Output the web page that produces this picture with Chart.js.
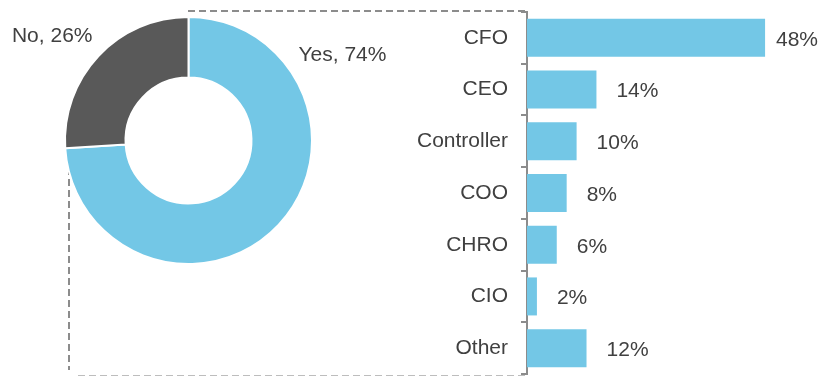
<!DOCTYPE html>
<html>
<head>
<meta charset="utf-8">
<script src="https://cdn.jsdelivr.net/npm/chart.js@4"></script>
<style>
  html, body { margin: 0; padding: 0; background: #fff; }
  #wrap { position: relative; width: 820px; height: 376px; }
  #barChart { position: absolute; left: 0; top: 0; }
  #pieChart { position: absolute; left: 0; top: 0; }
</style>
</head>
<body>
<div id="wrap">
  <canvas id="barChart" width="820" height="376"></canvas>
  <canvas id="pieChart" width="400" height="376"></canvas>
</div>
<script>
// Split of respondents (doughnut)
const pieLabels = ['Yes', 'No'];
const pieValues = [74, 26];

// Breakdown of the "Yes" share by role (bars)
const roles = ['CFO', 'CEO', 'Controller', 'COO', 'CHRO', 'CIO', 'Other'];
const roleValues = [48, 14, 10, 8, 6, 2, 12];

const BLUE = '#73c7e6';
const DARK = '#595959';
const TEXT = '#404040';
const FONT = '"Liberation Sans", Arial, sans-serif';

document.addEventListener('DOMContentLoaded', function() {
    Chart.defaults.font.family = FONT;
    Chart.defaults.font.size = 21;
    Chart.defaults.color = TEXT;

    // Dashed connector lines from the doughnut out to the bar panel
    const connectorLines = {
        id: 'connectorLines',
        beforeDraw(chart) {
            const ctx = chart.ctx;
            const a = chart.chartArea;
            ctx.save();
            ctx.strokeStyle = '#8c8c8c';
            ctx.lineWidth = 2;
            ctx.setLineDash([7, 4]);
            ctx.beginPath();
            ctx.moveTo(188, a.top - 1);
            ctx.lineTo(a.left - 2, a.top - 1);
            ctx.moveTo(69, 168);
            ctx.lineTo(69, 370);
            ctx.stroke();
            ctx.strokeStyle = '#bdbdbd';
            ctx.beginPath();
            ctx.moveTo(78, 376);
            ctx.lineTo(a.left - 2, 376);
            ctx.stroke();
            ctx.restore();
        }
    };

    // Value labels after each bar, kept inside the canvas
    const barValueLabels = {
        id: 'barValueLabels',
        afterDatasetsDraw(chart) {
            const ctx = chart.ctx;
            const meta = chart.getDatasetMeta(0);
            ctx.save();
            ctx.font = '21px ' + FONT;
            ctx.fillStyle = TEXT;
            ctx.textBaseline = 'middle';
            ctx.textAlign = 'left';
            meta.data.forEach((bar, i) => {
                const text = roleValues[i] + '%';
                const w = ctx.measureText(text).width;
                const x = Math.min(bar.x + 20, chart.width - w - 2);
                ctx.fillText(text, x, bar.y + 2);
            });
            ctx.restore();
        }
    };

    new Chart(document.getElementById('barChart'), {
        type: 'bar',
        data: {
            labels: roles,
            datasets: [{
                data: roleValues,
                backgroundColor: BLUE,
                borderWidth: 0,
                barPercentage: 0.735,
                categoryPercentage: 1
            }]
        },
        options: {
            indexAxis: 'y',
            responsive: false,
            animation: false,
            layout: {
                padding: { left: 0, right: 45, top: 12, bottom: 2 }
            },
            plugins: {
                legend: { display: false },
                tooltip: { enabled: false }
            },
            scales: {
                x: {
                    display: false,
                    min: 0,
                    max: 50
                },
                y: {
                    afterFit(scale) {
                        // fixed axis width, no extra room for the end labels
                        scale.width = 527;
                        scale.paddingTop = 0;
                        scale.paddingBottom = 0;
                    },
                    border: { display: true, color: '#8c8c8c', width: 2 },
                    grid: {
                        drawOnChartArea: false,
                        drawTicks: true,
                        tickLength: 6,
                        color: '#8c8c8c',
                        lineWidth: 2
                    },
                    ticks: {
                        padding: 13,
                        color: TEXT,
                        font: { size: 21 }
                    }
                }
            }
        },
        plugins: [connectorLines, barValueLabels]
    });

    // Slice labels placed beside the ring
    const sliceLabels = {
        id: 'sliceLabels',
        afterDatasetsDraw(chart) {
            const ctx = chart.ctx;
            const arc = chart.getDatasetMeta(0).data[0];
            const cx = arc.x, cy = arc.y;
            ctx.save();
            ctx.font = '21px ' + FONT;
            ctx.fillStyle = TEXT;
            ctx.textBaseline = 'alphabetic';
            ctx.textAlign = 'left';
            ctx.fillText(pieLabels[0] + ', ' + pieValues[0] + '%', cx + 110, cy - 80);
            ctx.textAlign = 'right';
            ctx.fillText(pieLabels[1] + ', ' + pieValues[1] + '%', cx - 96, cy - 99);
            ctx.restore();
        }
    };

    new Chart(document.getElementById('pieChart'), {
        type: 'doughnut',
        data: {
            labels: pieLabels,
            datasets: [{
                data: pieValues,
                backgroundColor: [BLUE, DARK],
                borderColor: '#ffffff',
                borderWidth: 2
            }]
        },
        options: {
            responsive: false,
            animation: false,
            cutout: '51%',
            layout: {
                padding: { left: 64, top: 16, right: 87, bottom: 111 }
            },
            plugins: {
                legend: { display: false },
                tooltip: { enabled: false }
            }
        },
        plugins: [sliceLabels]
    });
});
</script>
</body>
</html>
